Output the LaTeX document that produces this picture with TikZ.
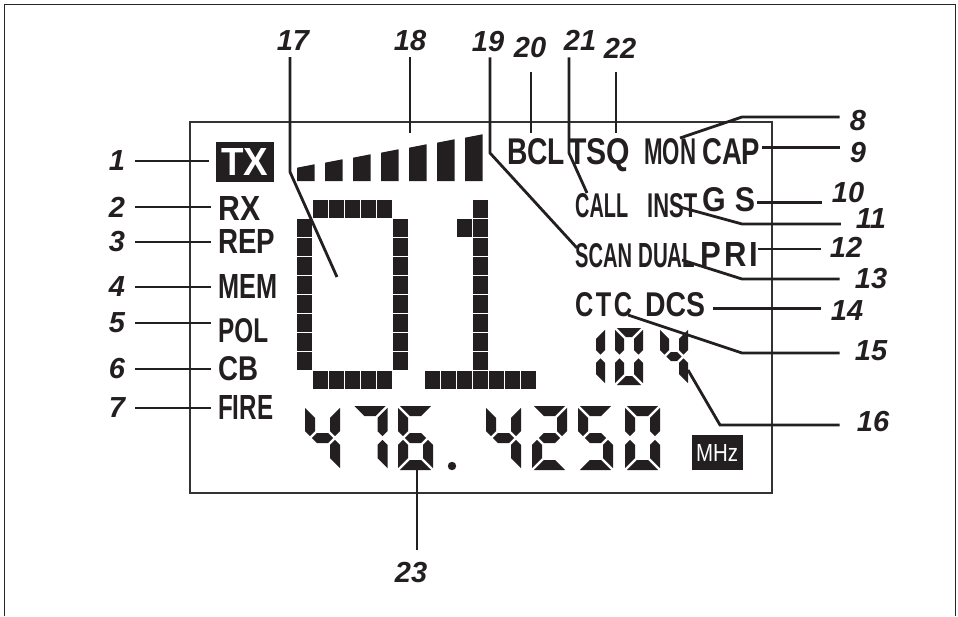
\documentclass[tikz,border=0pt]{standalone}
\usepackage{fontspec}
\setmainfont{Liberation Sans}
\usepackage{graphicx}
\usepackage{xcolor}
\definecolor{lcdink}{RGB}{35,31,32}
\usetikzlibrary{positioning}

% seven segment pieces, y runs downwards
\def\dg{1.8}
\def\segA{\fill[lcdink] (\dg,0) -- ({\dw-\dg},0) -- ({\dw-\dt-\dg},\dt) -- ({\dt+\dg},\dt) -- cycle;}
\def\segD{\fill[lcdink] (\dg,\dh) -- ({\dw-\dg},\dh) -- ({\dw-\dt-\dg},{\dh-\dt}) -- ({\dt+\dg},{\dh-\dt}) -- cycle;}
\def\segG{\fill[lcdink] ({\dt/2+\dg},\dm) -- ({\dt+\dg},{\dm-\dt/2}) -- ({\dw-\dt-\dg},{\dm-\dt/2}) -- ({\dw-\dt/2-\dg},\dm) -- ({\dw-\dt-\dg},{\dm+\dt/2}) -- ({\dt+\dg},{\dm+\dt/2}) -- cycle;}
\def\segF{\fill[lcdink] (0,\dg) -- (\dt,{\dt+\dg}) -- (\dt,{\dm-\dt/2-\dg}) -- ({\dt/2},{\dm-\dg}) -- (0,{\dm-\dt/2-\dg}) -- cycle;}
\def\segE{\fill[lcdink] (0,{\dh-\dg}) -- (\dt,{\dh-\dt-\dg}) -- (\dt,{\dm+\dt/2+\dg}) -- ({\dt/2},{\dm+\dg}) -- (0,{\dm+\dt/2+\dg}) -- cycle;}
\def\segB{\fill[lcdink] (\dw,\dg) -- ({\dw-\dt},{\dt+\dg}) -- ({\dw-\dt},{\dm-\dt/2-\dg}) -- ({\dw-\dt/2},{\dm-\dg}) -- (\dw,{\dm-\dt/2-\dg}) -- cycle;}
\def\segC{\fill[lcdink] (\dw,{\dh-\dg}) -- ({\dw-\dt},{\dh-\dt-\dg}) -- ({\dw-\dt},{\dm+\dt/2+\dg}) -- ({\dw-\dt/2},{\dm+\dg}) -- (\dw,{\dm+\dt/2+\dg}) -- cycle;}
% x, y (top left), width, height, stroke, segments
\newcommand{\segdigit}[6]{%
  \begin{scope}[shift={(#1,#2)}]
    \def\dw{#3}\def\dh{#4}\def\dt{#5}\pgfmathsetmacro\dm{#4/2}
    \foreach \s in {#6}{\csname seg\s\endcsname}
  \end{scope}}
% one square of the big dot matrix
\newcommand{\lcdpixel}[2]{\fill[lcdink] ({296.7+16*#1},{200+19*#2}) rectangle ++(15,17.8);}
% condensed lcd lettering: [cap height]{width}{text}
\newcommand{\lcdword}[3][24]{\resizebox{#2pt}{#1pt}{\bfseries #3}}

\begin{document}
\begin{tikzpicture}[x=1pt, y=-1pt,
    lead/.style={line width=2.8pt, color=lcdink},
    num/.style={inner sep=0pt, font=\fontsize{29}{29}\selectfont\bfseries\itshape, text=lcdink},
    word/.style={inner sep=0pt, anchor=base west, text=lcdink},
    inv/.style={fill=lcdink, text=white, inner sep=0pt}]
  \useasboundingbox (0,0) rectangle (958,616);
  \draw[line width=1.6pt, black!85] (4.5,616) -- (4.5,4.5) -- (955.5,4.5) -- (955.5,616);
  % display window
  \draw[line width=1.2pt, black!80] (190,122) rectangle (772,493);

  % left column
  \node[inv, minimum width=58pt, minimum height=40pt] (tx) at (245,162) {\lcdword[27]{47}{TX}};
  \node[word] (rx)   at (218,220) {\lcdword{42}{RX}};
  \node[word] (rep)  at (218,253) {\lcdword{57}{REP}};
  \node[word] (mem)  at (218,298) {\lcdword{59}{MEM}};
  \node[word] (pol)  at (218,342) {\lcdword{50}{POL}};
  \node[word] (cb)   at (218,380) {\lcdword{40}{CB}};
  \node[word] (fire) at (218,419) {\lcdword{55}{FIRE}};

  % right block
  \node[word] (bcl)  at (507,164) {\lcdword[26]{58}{BCL}};
  \node[word] (tsq)  at (568,164) {\lcdword[26]{62}{TSQ}};
  \node[word] (mon)  at (644,164) {\lcdword[26]{52}{MON}};
  \node[word] (cap)  at (702,164) {\lcdword[26]{58}{CAP}};
  \node[word] (call) at (575,217) {\lcdword{53}{CALL}};
  \node[word] (inst) at (647,217) {\lcdword{50}{INST}};
  \node[word] (gs)   at (702,211) {\lcdword{53}{G\kern3pt S}};
  \node[word] (scan) at (575,267) {\lcdword{57}{SCAN}};
  \node[word] (dual) at (638,267) {\lcdword{57}{DUAL}};
  \node[word] (pri)  at (700,266) {\lcdword{58}{P\kern1pt R\kern1pt I}};
  \node[word] (ctc)  at (575,316) {\lcdword{57}{C\kern1pt T\kern1pt C}};
  \node[word] (dcs)  at (645,316) {\lcdword{60}{DCS}};
  \node[inv, minimum width=51pt, minimum height=35pt] (mhz) at (717,452.5) {\resizebox{42pt}{17pt}{MHz}};

  % signal bars
  \foreach \i in {0,...,6}
    \fill[lcdink] ({297+28*\i},181) -- ++(0,{-13.3-5*\i}) -- ++(17.5,-3.4) -- ++(0,{16.7+5*\i}) -- cycle;

  % channel 01 dot matrix
  \foreach \c in {1,...,5} {\lcdpixel{\c}{0} \lcdpixel{\c}{9}}
  \foreach \r in {1,...,8} {\lcdpixel{0}{\r} \lcdpixel{6}{\r} \lcdpixel{11}{\r}}
  \lcdpixel{11}{0} \lcdpixel{10}{1}
  \foreach \c in {8,...,14} {\lcdpixel{\c}{9}}

  % 104
  \segdigit{577}{328}{28}{57}{9}{B,C}
  \segdigit{615}{328}{28}{57}{9}{A,B,C,D,E,F}
  \segdigit{660}{328}{28}{57}{9}{F,G,B,C}
  % 476.4250
  \segdigit{305}{406}{35}{64}{10}{F,G,B,C}
  \segdigit{352.5}{406}{35}{64}{10}{A,B,C}
  \segdigit{398}{406}{35}{64}{10}{A,F,G,E,C,D}
  \fill[lcdink] (452,466) circle (4.2);
  \segdigit{486}{406}{35}{64}{10}{F,G,B,C}
  \segdigit{532}{406}{35}{64}{10}{A,B,G,E,D}
  \segdigit{578}{406}{35}{64}{10}{A,F,G,C,D}
  \segdigit{625}{406}{35}{64}{10}{A,B,C,D,E,F}

  % callout numbers
  \node[num] (n1) at (117,161) {1};
  \node[num] (n2) at (117,207) {2};
  \node[num] (n3) at (117,242) {3};
  \node[num] (n4) at (117,287) {4};
  \node[num] (n5) at (117,323) {5};
  \node[num] (n6) at (117,369) {6};
  \node[num] (n7) at (117,408) {7};
  \node[num] (n8)  at (858,121) {8};
  \node[num] (n9)  at (858,153) {9};
  \node[num] (n10) at (848,193) {10};
  \node[num] (n11) at (871,219) {11};
  \node[num] (n12) at (846,247) {12};
  \node[num] (n13) at (871,279) {13};
  \node[num] (n14) at (847,311) {14};
  \node[num] (n15) at (871,351) {15};
  \node[num] (n16) at (873,422) {16};
  \node[num] (n17) at (293,41) {17};
  \node[num] (n18) at (410,41) {18};
  \node[num] (n19) at (488,42) {19};
  \node[num] (n20) at (530,48) {20};
  \node[num] (n21) at (580,40) {21};
  \node[num] (n22) at (620,48) {22};
  \node[num] (n23) at (411,573) {23};

  % leader lines, left
  \foreach \n/\w in {n1/tx, n2/rx, n3/rep, n4/mem, n5/pol, n6/cb, n7/fire}
    \draw[lead, shorten <=10pt, shorten >=7pt] (\n.east) -- (\n.east -| \w.west);

  % leader lines, right
  \coordinate (t8) at (680,138);  \coordinate (b8) at (742,117);
  \coordinate (t11) at (680,207); \coordinate (b11) at (742,224);
  \coordinate (t13) at (682,260); \coordinate (b13) at (742,279);
  \coordinate (t15) at (628,315); \coordinate (b15) at (742,353);
  \coordinate (t16) at (688,370); \coordinate (b16) at (720,425);
  \draw[lead, shorten >=10pt] (t8) -- (b8) -- (b8 -| n8.west);
  \draw[lead, shorten <=2pt, shorten >=10pt] ([yshift=4pt]cap.east) -- ([yshift=4pt]cap.east -| n9.west);
  \draw[lead, shorten <=2pt, shorten >=9.5pt] ([yshift=-3pt]gs.east) -- ([yshift=-3pt]gs.east -| n10.west);
  \draw[lead, shorten >=15pt] (t11) -- (b11) -- (b11 -| n11.west);
  \draw[lead, shorten >=8.5pt] ([yshift=5pt]pri.east) -- ([yshift=5pt]pri.east -| n12.west);
  \draw[lead, shorten >=15pt] (t13) -- (b13) -- (b13 -| n13.west);
  \draw[lead, shorten <=8pt, shorten >=9.5pt] ([yshift=-4pt]dcs.east) -- ([yshift=-4pt]dcs.east -| n14.west);
  \draw[lead, shorten >=15pt] (t15) -- (b15) -- (b15 -| n15.west);
  \draw[lead, shorten >=17pt] (t16) -- (b16) -- (b16 -| n16.west);

  % leader lines, top and bottom
  \coordinate (b17) at (290,172); \coordinate (t17) at (337,277);
  \coordinate (t18) at (410,133);
  \coordinate (b19) at (490,153); \coordinate (t19) at (577,248);
  \coordinate (t20) at (531,133);
  \coordinate (b21) at (569,153); \coordinate (t21) at (587,193);
  \coordinate (t22) at (616,133);
  \coordinate (t23) at (417,468);
  \draw[lead, shorten <=6pt] (n17.south -| b17) -- (b17) -- (t17);
  \draw[lead, shorten <=6pt] (n18.south) -- (t18);
  \draw[lead, shorten <=5pt] (n19.south -| b19) -- (b19) -- (t19);
  \draw[lead, shorten <=14pt] (n20.south -| t20) -- (t20);
  \draw[lead, shorten <=7pt] (n21.south -| b21) -- (b21) -- (t21);
  \draw[lead, shorten <=14pt] (n22.south -| t22) -- (t22);
  \draw[lead, shorten >=13pt] (t23) -- (t23 |- n23.north);
\end{tikzpicture}
\end{document}
